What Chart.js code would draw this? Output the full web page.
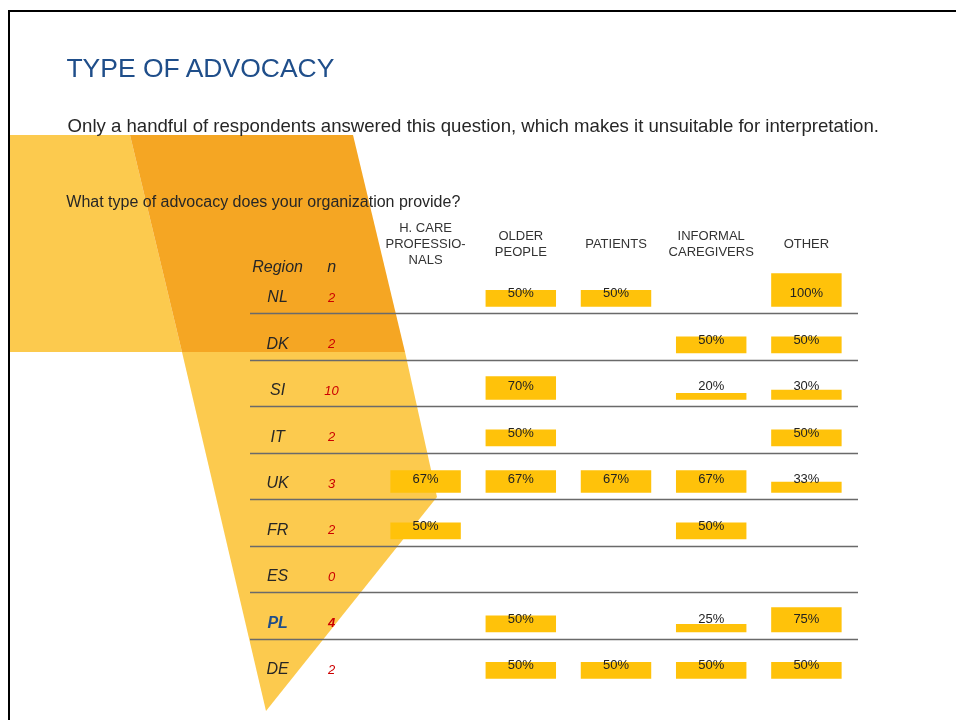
<!DOCTYPE html>
<html>
<head>
<meta charset="utf-8">
<script src="https://cdn.jsdelivr.net/npm/chart.js@4.4.1/dist/chart.umd.min.js"></script>
<style>
  body { margin: 0; background: #fff; }
  #slide { position: relative; width: 956px; height: 720px; overflow: hidden; font-family: "Liberation Sans", Arial, sans-serif; }
  #chart { position: absolute; left: 0; top: 0; }
  #frame { position: absolute; left: 8px; top: 10px; width: 2000px; height: 2000px; border-left: 2px solid #000; border-top: 2px solid #000; }
  .txt { position: absolute; white-space: nowrap; }
  #title { left: 66.4px; top: 54.9px; font-size: 26.5px; line-height: 26.5px; color: #1F4E8A; }
  #subtitle { left: 67.6px; top: 117.3px; font-size: 18.6px; line-height: 18.6px; color: #262626; }
  #question { left: 66.3px; top: 193.8px; font-size: 16px; line-height: 16px; color: #262626; }
</style>
</head>
<body>
<div id="slide">
  <canvas id="chart" width="956" height="720"></canvas>
  <div id="frame"></div>
  <div class="txt" id="title">TYPE OF ADVOCACY</div>
  <div class="txt" id="subtitle">Only a handful of respondents answered this question, which makes it unsuitable for interpretation.</div>
  <div class="txt" id="question">What type of advocacy does your organization provide?</div>
</div>
<script>
const FONT = '"Liberation Sans", Arial, sans-serif';

// columns (advocacy types) and rows (regions)
const columns = [["H. CARE", "PROFESSIO-", "NALS"], ["OLDER", "PEOPLE"], "PATIENTS", ["INFORMAL", "CAREGIVERS"], "OTHER"];
const regions = ["NL", "DK", "SI", "IT", "UK", "FR", "ES", "PL", "DE"];
const respondents = [2, 2, 10, 2, 3, 2, 0, 4, 2];
const highlightRegion = "PL";

// share of respondents (%) per column, null = no answer
const nlValues = [null, 50, 50, null, 100];
const dkValues = [null, null, null, 50, 50];
const siValues = [null, 70, null, 20, 30];
const itValues = [null, 50, null, null, 50];
const ukValues = [67, 67, 67, 67, 33];
const frValues = [50, null, null, 50, null];
const esValues = [null, null, null, null, null];
const plValues = [null, 50, null, 25, 75];
const deValues = [null, 50, 50, 50, 50];

const rowValues = [nlValues, dkValues, siValues, itValues, ukValues, frValues, esValues, plValues, deValues];

const PCT = 0.0072;        // row units per percent
const BAR_COLOR = "#FFC20A";

// each region sits on its own baseline (NL on top), bars float up from it
const datasets = rowValues.map((vals, i) => {
  const base = regions.length - 1 - i;
  return {
    label: regions[i],
    data: vals.map(v => (v === null ? null : [base, base + v * PCT])),
    backgroundColor: BAR_COLOR,
    borderWidth: 0,
    borderSkipped: false,
    grouped: false,
    barPercentage: 0.74,
    categoryPercentage: 1,
  };
});

function polygon(ctx, pts, color) {
  ctx.beginPath();
  ctx.moveTo(pts[0][0], pts[0][1]);
  for (let k = 1; k < pts.length; k++) ctx.lineTo(pts[k][0], pts[k][1]);
  ctx.closePath();
  ctx.fillStyle = color;
  ctx.fill();
}

const tablePlugin = {
  id: "table",
  beforeDraw(chart) {
    // decorative slide shapes
    const ctx = chart.ctx;
    ctx.save();
    polygon(ctx, [[10, 135], [130, 135], [182, 352], [10, 352]], "#FCCA4E");
    polygon(ctx, [[130, 135], [353, 135], [405, 352], [182, 352]], "#F5A623");
    polygon(ctx, [[182, 352], [405, 352], [437, 497], [266, 711]], "#FCCA4E");
    ctx.restore();
  },
  afterDatasetsDraw(chart) {
    const { ctx, chartArea, scales: { y } } = chart;
    const n = regions.length;
    const regionX = chartArea.left - 100.4;
    const countX = chartArea.left - 46.4;

    ctx.save();
    // row separators
    ctx.strokeStyle = "#6a6a6a";
    ctx.lineWidth = 1.4;
    for (let i = 0; i < n - 1; i++) {
      const py = Math.round(y.getPixelForValue(n - 1 - i - 0.14)) + 0.5;
      ctx.beginPath();
      ctx.moveTo(chartArea.left - 128, py);
      ctx.lineTo(chartArea.right + 4, py);
      ctx.stroke();
    }

    ctx.textAlign = "center";
    ctx.textBaseline = "middle";

    // headers of the first two columns
    ctx.fillStyle = "#262626";
    ctx.font = "italic 16px " + FONT;
    const headY = y.getPixelForValue(n - 1 + 0.85);
    ctx.fillText("Region", regionX, headY);
    ctx.fillText("n", countX, headY);

    // region names and respondent counts
    regions.forEach((r, i) => {
      const py = y.getPixelForValue(n - 1 - i + 0.19);
      const hl = r === highlightRegion;
      ctx.font = (hl ? "italic bold 16px " : "italic 16px ") + FONT;
      ctx.fillStyle = hl ? "#1F4E8A" : "#262626";
      ctx.fillText(r, regionX, py);
      ctx.font = (hl ? "italic bold 13px " : "italic 13px ") + FONT;
      ctx.fillStyle = "#CC0000";
      ctx.fillText(String(respondents[i]), countX, py);
    });

    // value labels
    ctx.font = "13px " + FONT;
    ctx.fillStyle = "#222";
    chart.data.datasets.forEach((ds, i) => {
      const meta = chart.getDatasetMeta(i);
      const py = y.getPixelForValue(n - 1 - i + 0.28);
      meta.data.forEach((bar, j) => {
        if (rowValues[i][j] === null) return;
        ctx.fillText(rowValues[i][j] + "%", bar.x, py);
      });
    });
    ctx.restore();
  }
};

new Chart(document.getElementById("chart").getContext("2d"), {
  type: "bar",
  data: { labels: columns, datasets },
  options: {
    responsive: false,
    animation: false,
    layout: { padding: { top: 201, left: 378, right: 102, bottom: 18 } },
    plugins: { legend: { display: false }, tooltip: { enabled: false } },
    scales: {
      x: {
        position: "top",
        grid: { display: false, drawTicks: false },
        border: { display: false },
        ticks: {
          color: "#333",
          font: { family: FONT, size: 13, lineHeight: "16px" },
          padding: 11,
          maxRotation: 0,
          autoSkip: false,
          crossAlign: "center",
        },
      },
      y: { display: false, min: -0.5, max: 8.77 },
    },
  },
  plugins: [tablePlugin],
});
</script>
</body>
</html>
